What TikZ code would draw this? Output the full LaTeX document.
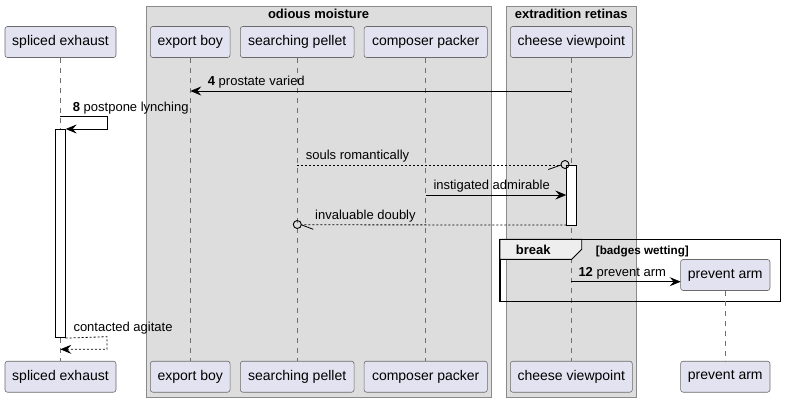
\documentclass[tikz,border=0pt]{standalone}
\usepackage{fontspec}
\setmainfont{Liberation Sans}
\usetikzlibrary{arrows.meta}
\definecolor{partfill}{HTML}{E2E2F0}
\definecolor{partdraw}{HTML}{6A6A6A}
\definecolor{grpfill}{HTML}{DDDDDD}
\definecolor{grpdraw}{HTML}{8A8A8A}
\definecolor{tabfill}{HTML}{EEEEEE}
\definecolor{lifec}{HTML}{707070}
\begin{document}
\begin{tikzpicture}[x=1pt,y=-1pt,
 part/.style={draw=partdraw, fill=partfill, rounded corners=2.5pt, line width=0.6pt, minimum height=31pt, inner sep=0pt, font=\fontsize{14}{16}\selectfont},
 life/.style={draw=lifec, dash pattern=on 5pt off 5pt, line width=0.6pt},
 msg/.style={draw=black, line width=0.8pt},
 ret/.style={msg, dash pattern=on 2pt off 2pt},
 head/.style={-{Stealth[length=11pt,width=9pt,inset=4pt]}},
 lbl/.style={anchor=base west, inner sep=0pt, font=\fontsize{13}{15}\selectfont},
 act/.style={draw=black, fill=white, line width=0.8pt, inner sep=0pt, minimum width=10pt},
 grp/.style={draw=grpdraw, fill=grpfill, line width=0.8pt},
 grptitle/.style={anchor=base, inner sep=0pt, font=\bfseries\fontsize{13}{15}\selectfont},
]
\fill[white] (0,0) rectangle (785,402);
\useasboundingbox (0,0) rectangle (785,402);

% groups
\draw[grp] (146,6) rectangle (491.3,397.3);
\draw[grp] (506,6) rectangle (636.3,397.3);
\node[grptitle] (g1) at (318.6,18.5) {odious moisture};
\node[grptitle] (g2) at (571.2,18.5) {extradition retinas};

% participants top
\node[part, minimum width=111pt] (se) at (60.5,42) {spliced exhaust};
\node[part, minimum width=79.7pt] (eb) at (190.2,42) {export boy};
\node[part, minimum width=113.7pt] (sp) at (297.2,42) {searching pellet};
\node[part, minimum width=123.3pt] (cp) at (425.7,42) {composer packer};
\node[part, minimum width=122pt] (cv) at (571.3,42) {cheese viewpoint};
% participants bottom
\node[part, minimum width=111pt] (se2) at (60.5,376.7) {spliced exhaust};
\node[part, minimum width=79.7pt] (eb2) at (190.2,376.7) {export boy};
\node[part, minimum width=113.7pt] (sp2) at (297.2,376.7) {searching pellet};
\node[part, minimum width=123.3pt] (cp2) at (425.7,376.7) {composer packer};
\node[part, minimum width=122pt] (cv2) at (571.3,376.7) {cheese viewpoint};
\node[part, minimum width=89.3pt] (pa2) at (725.3,376.7) {prevent arm};

% lifelines
\draw[life] (se.south) -- (se2.north);
\draw[life] (eb.south) -- (eb2.north);
\draw[life] (sp.south) -- (sp2.north);
\draw[life] (cp.south) -- (cp2.north);
\draw[life] (cv.south) -- (cv2.north);

% break frame
\draw[black, line width=1.5pt] (500,239.3) rectangle (780.7,301.7);
\draw[black, fill=tabfill, line width=0.9pt] (500,239.3) -- (581.7,239.3) -- (581.7,249.3) -- (571.7,259.3) -- (500,259.3) -- cycle;
\node[anchor=base, inner sep=0pt, font=\bfseries\fontsize{13}{15}\selectfont] (brk) at (533.2,254.3) {break};
\node[anchor=base west, inner sep=0pt, font=\bfseries\fontsize{11.7}{14}\selectfont] (brkc) at (595.7,254.1) {[badges wetting]};

% created participant
\node[part, minimum width=89.3pt] (pa) at (725.3,275) {prevent arm};
\draw[life] (pa.south) -- (pa2.north);

% activations
\node[act, anchor=north, minimum height=208.3pt] (seact) at (60.3,129) {};
\node[act, anchor=north, minimum height=60pt] (cvact) at (571.3,165) {};

% coordinates
\coordinate (m4a) at (571.3,91);
\coordinate (m4b) at (190.3,91);
\coordinate (m8a) at (60.3,116.7);
\coordinate (m8c1) at (107,116.7);
\coordinate (m8c2) at (107,129);
\coordinate (m5a) at (297.3,165);
\coordinate (m5b) at (561,165);
\coordinate (m5o) at (565,164.5);
\coordinate (m5w) at (548.3,169.5);
\coordinate (m6a) at (425.7,195);
\coordinate (m6b) at (566.3,195);
\coordinate (m7a) at (566.3,225);
\coordinate (m7b) at (301.3,224.8);
\coordinate (m7o) at (297.3,224.5);
\coordinate (m7w) at (313.3,229.3);
\coordinate (m12a) at (571.3,281.7);
\coordinate (m12b) at (680.7,281.7);
\coordinate (mrc1) at (107,336.7);
\coordinate (mrc2) at (107,349.3);
\coordinate (mrb) at (60.3,349.3);

% messages
\draw[msg, head] (m4a) -- (m4b);
\node[lbl] (l4) at (207.7,85.5) {\textbf{4} prostate varied};

\draw[msg, head] (m8a) -- (m8c1) -- (m8c2) -- (seact.north east);
\node[lbl] (l8) at (72.7,111.2) {\textbf{8} postpone lynching};

\draw[ret] (m5a) -- (m5b);
\draw[msg] (m5w) -- (m5b);
\draw[msg, line width=0.9pt] (m5o) circle (4);
\node[lbl] (l5) at (305.7,159.5) {souls romantically};

\draw[msg, head] (m6a) -- (m6b);
\node[lbl] (l6) at (433.3,189.5) {instigated admirable};

\draw[ret] (m7a) -- (m7b);
\draw[msg] (m7b) -- (m7w);
\draw[msg, line width=0.9pt] (m7o) circle (4);
\node[lbl] (l7) at (315,219.5) {invaluable doubly};

\draw[msg, head] (m12a) -- (m12b);
\node[lbl] (l12) at (578.3,276.2) {\textbf{12} prevent arm};

\draw[ret, head] (seact.south east) -- (mrc1) -- (mrc2) -- (mrb);
\node[lbl] (lr) at (73.3,331.2) {contacted agitate};
\end{tikzpicture}
\end{document}
